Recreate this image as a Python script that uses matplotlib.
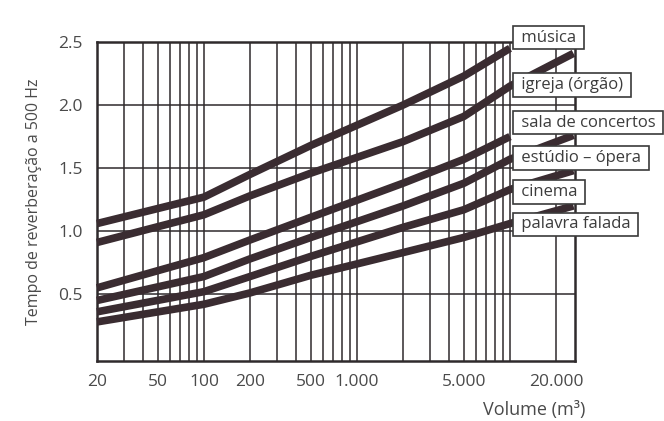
import matplotlib
matplotlib.use("Agg")
import matplotlib.pyplot as plt
import matplotlib.transforms as mtransforms

plt.rcParams['font.family'] = ['Open Sans', 'DejaVu Sans']

# ---- data ----
labels = ["música", "igreja (órgão)", "sala de concertos", "estúdio – ópera", "cinema", "palavra falada"]

vol_musica = [20, 100, 200, 500, 2000, 5000, 10000]
val_musica = [1.06, 1.27, 1.45, 1.68, 2.00, 2.23, 2.45]

vol_igreja = [20, 100, 200, 500, 2000, 5000, 10000, 26000]
val_igreja = [0.91, 1.13, 1.28, 1.46, 1.71, 1.91, 2.15, 2.41]

vol_sala = [20, 100, 200, 500, 2000, 5000, 10000]
val_sala = [0.55, 0.79, 0.93, 1.11, 1.38, 1.57, 1.75]

vol_estudio = [20, 100, 200, 500, 2000, 5000, 10000, 26000]
val_estudio = [0.45, 0.64, 0.78, 0.95, 1.20, 1.38, 1.57, 1.76]

vol_cinema = [20, 100, 200, 500, 2000, 5000, 10000, 26000]
val_cinema = [0.36, 0.52, 0.64, 0.80, 1.03, 1.17, 1.33, 1.48]

vol_palavra = [20, 100, 200, 500, 2000, 5000, 10000, 26000]
val_palavra = [0.28, 0.42, 0.51, 0.65, 0.83, 0.95, 1.06, 1.20]

label_y = [2.535, 2.16, 1.86, 1.58, 1.31, 1.055]

xticks = [20, 50, 100, 200, 500, 1000, 5000, 20000]
xticklabels = ["20", "50", "100", "200", "500", "1.000", "5.000", "20.000"]
yticks = [0.5, 1.0, 1.5, 2.0, 2.5]
yticklabels = ["0.5", "1.0", "1.5", "2.0", "2.5"]

vgrid = [30, 40, 50, 60, 70, 80, 90, 100, 200, 300, 400, 500, 600, 700, 800, 900,
         1000, 2000, 3000, 4000, 5000, 6000, 7000, 8000, 9000, 10000, 20000]
hgrid = [0.5, 1.0, 1.5, 2.0]

# ---- figure ----
fig = plt.figure(figsize=(6.64, 4.21), dpi=100)
L, R, T, B = 97, 575, 42, 361
ax = fig.add_axes([L/664, 1-B/421, (R-L)/664, (B-T)/421])
ax.set_xscale('log')
ax.set_xlim(20, 26600)
ax.set_ylim(-0.03, 2.5)

ink = '#3a2c31'
gridc = '#2f2a2c'
for v in vgrid:
    ax.axvline(v, color=gridc, lw=1.1, zorder=1)
for h in hgrid:
    ax.axhline(h, color=gridc, lw=1.1, zorder=1)

for s in ax.spines.values():
    s.set_color(gridc)
    s.set_linewidth(1.8)

series = [(vol_musica, val_musica), (vol_igreja, val_igreja), (vol_sala, val_sala),
          (vol_estudio, val_estudio), (vol_cinema, val_cinema), (vol_palavra, val_palavra)]
for xs, ys in series:
    ax.plot(xs, ys, color=ink, lw=5.5, solid_capstyle='butt', solid_joinstyle='round',
            zorder=3, clip_on=False)

ax.set_xticks(xticks)
ax.set_xticklabels(xticklabels)
ax.xaxis.set_minor_locator(matplotlib.ticker.NullLocator())
ax.set_yticks(yticks)
ax.set_yticklabels(yticklabels)
ax.tick_params(axis='both', length=0, labelsize=12.5, labelcolor='#4a4a4a')
ax.tick_params(axis='x', pad=9)
ax.tick_params(axis='y', pad=10)

ax.set_ylabel("Tempo de reverberação a 500 Hz", fontsize=11.5, color='#4a4a4a', labelpad=12)
fig.text(534/664, 1-410/421, "Volume (m³)", fontsize=13, color='#4a4a4a',
         ha='center', va='center')

trans = mtransforms.blended_transform_factory(ax.transAxes, ax.transData)
fs = 12
pad = 0.22
x0 = (513 + pad*fs*100/72 - L)/(R-L)
for lab, yv in zip(labels, label_y):
    ax.text(x0, yv, " " + lab + " ", transform=trans, ha='left', va='center', fontsize=fs,
            color='#3c3c3c', zorder=10, clip_on=False,
            bbox=dict(boxstyle='square,pad=%g' % pad, fc='white', ec='#3a3a3a', lw=1.2))

fig.savefig("out.png", dpi=100)
